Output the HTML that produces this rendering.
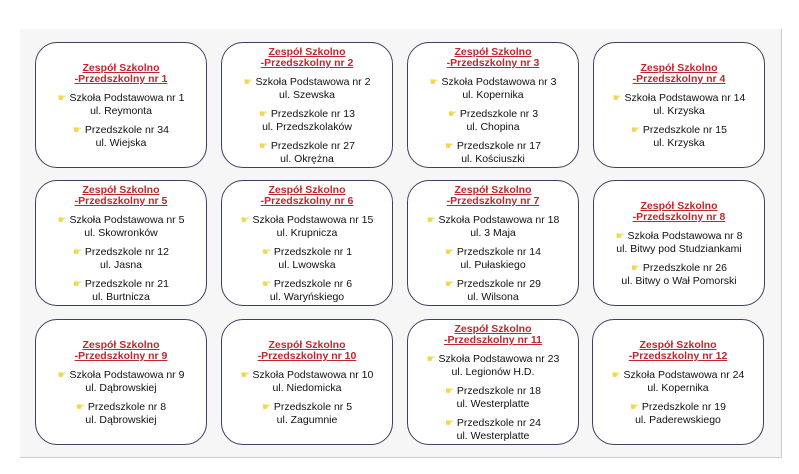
<!DOCTYPE html>
<html><head><meta charset="utf-8"><style>
body{margin:0;width:799px;height:474px;background:#fff;position:relative;overflow:hidden;font-family:"Liberation Sans",sans-serif}
.panel{position:absolute;left:20px;top:29px;width:761px;height:428px;background:#f6f6f6;border-right:1px solid #ccc;border-bottom:1px solid #ccc}
.box{position:absolute;width:172px;height:126px;border:1.5px solid #3d4160;border-radius:22px;background:#fff;display:flex;flex-direction:column;justify-content:center;align-items:center;text-align:center;font-size:10.5px;line-height:12px;color:#111;box-sizing:border-box;padding-top:2px}
.t{color:#c0272d;font-weight:bold;text-decoration:underline;font-size:10.5px;line-height:11px;margin-bottom:7px}
.i{margin-bottom:7px}.i:last-child{margin-bottom:0}
.p{color:#f2d64b;font-size:10px}
</style></head><body><div class="panel"></div>
<div class="box" style="left:35px;top:42px"><div class="t">Zespół Szkolno<br>-Przedszkolny nr 1</div><div class="i"><span class="p">☛</span> Szkoła Podstawowa nr 1<br>ul. Reymonta</div><div class="i"><span class="p">☛</span> Przedszkole nr 34<br>ul. Wiejska</div></div>
<div class="box" style="left:221px;top:42px"><div class="t">Zespół Szkolno<br>-Przedszkolny nr 2</div><div class="i"><span class="p">☛</span> Szkoła Podstawowa nr 2<br>ul. Szewska</div><div class="i"><span class="p">☛</span> Przedszkole nr 13<br>ul. Przedszkolaków</div><div class="i"><span class="p">☛</span> Przedszkole nr 27<br>ul. Okrężna</div></div>
<div class="box" style="left:407px;top:42px"><div class="t">Zespół Szkolno<br>-Przedszkolny nr 3</div><div class="i"><span class="p">☛</span> Szkoła Podstawowa nr 3<br>ul. Kopernika</div><div class="i"><span class="p">☛</span> Przedszkole nr 3<br>ul. Chopina</div><div class="i"><span class="p">☛</span> Przedszkole nr 17<br>ul. Kościuszki</div></div>
<div class="box" style="left:593px;top:42px"><div class="t">Zespół Szkolno<br>-Przedszkolny nr 4</div><div class="i"><span class="p">☛</span> Szkoła Podstawowa nr 14<br>ul. Krzyska</div><div class="i"><span class="p">☛</span> Przedszkole nr 15<br>ul. Krzyska</div></div>
<div class="box" style="left:35px;top:180px"><div class="t">Zespół Szkolno<br>-Przedszkolny nr 5</div><div class="i"><span class="p">☛</span> Szkoła Podstawowa nr 5<br>ul. Skowronków</div><div class="i"><span class="p">☛</span> Przedszkole nr 12<br>ul. Jasna</div><div class="i"><span class="p">☛</span> Przedszkole nr 21<br>ul. Burtnicza</div></div>
<div class="box" style="left:221px;top:180px"><div class="t">Zespół Szkolno<br>-Przedszkolny nr 6</div><div class="i"><span class="p">☛</span> Szkoła Podstawowa nr 15<br>ul. Krupnicza</div><div class="i"><span class="p">☛</span> Przedszkole nr 1<br>ul. Lwowska</div><div class="i"><span class="p">☛</span> Przedszkole nr 6<br>ul. Waryńskiego</div></div>
<div class="box" style="left:407px;top:180px"><div class="t">Zespół Szkolno<br>-Przedszkolny nr 7</div><div class="i"><span class="p">☛</span> Szkoła Podstawowa nr 18<br>ul. 3 Maja</div><div class="i"><span class="p">☛</span> Przedszkole nr 14<br>ul. Pułaskiego</div><div class="i"><span class="p">☛</span> Przedszkole nr 29<br>ul. Wilsona</div></div>
<div class="box" style="left:593px;top:180px"><div class="t">Zespół Szkolno<br>-Przedszkolny nr 8</div><div class="i"><span class="p">☛</span> Szkoła Podstawowa nr 8<br>ul. Bitwy pod Studziankami</div><div class="i"><span class="p">☛</span> Przedszkole nr 26<br>ul. Bitwy o Wał Pomorski</div></div>
<div class="box" style="left:35px;top:319px"><div class="t">Zespół Szkolno<br>-Przedszkolny nr 9</div><div class="i"><span class="p">☛</span> Szkoła Podstawowa nr 9<br>ul. Dąbrowskiej</div><div class="i"><span class="p">☛</span> Przedszkole nr 8<br>ul. Dąbrowskiej</div></div>
<div class="box" style="left:221px;top:319px"><div class="t">Zespół Szkolno<br>-Przedszkolny nr 10</div><div class="i"><span class="p">☛</span> Szkoła Podstawowa nr 10<br>ul. Niedomicka</div><div class="i"><span class="p">☛</span> Przedszkole nr 5<br>ul. Zagumnie</div></div>
<div class="box" style="left:407px;top:319px"><div class="t">Zespół Szkolno<br>-Przedszkolny nr 11</div><div class="i"><span class="p">☛</span> Szkoła Podstawowa nr 23<br>ul. Legionów H.D.</div><div class="i"><span class="p">☛</span> Przedszkole nr 18<br>ul. Westerplatte</div><div class="i"><span class="p">☛</span> Przedszkole nr 24<br>ul. Westerplatte</div></div>
<div class="box" style="left:592px;top:319px"><div class="t">Zespół Szkolno<br>-Przedszkolny nr 12</div><div class="i"><span class="p">☛</span> Szkoła Podstawowa nr 24<br>ul. Kopernika</div><div class="i"><span class="p">☛</span> Przedszkole nr 19<br>ul. Paderewskiego</div></div>
</body></html>
